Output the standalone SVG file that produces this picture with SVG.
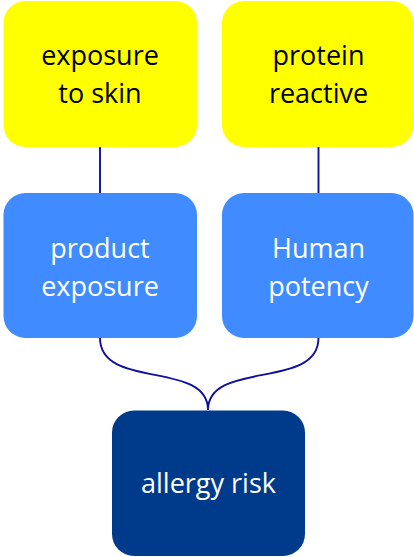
<svg xmlns="http://www.w3.org/2000/svg" width="414" height="557" viewBox="0 0 414 557">
<style>
.box{stroke:none}
.y{fill:#FFFF00}
.b{fill:#3F8BFF}
.d{fill:#003A8A}
text{font-family:"Open Sans","Noto Sans","Liberation Sans",sans-serif;font-size:27px;text-anchor:middle}
.tk{fill:#000000}
.tw{fill:#FFFFFF}
.c{fill:none;stroke:#10109A;stroke-width:1.9}
</style>
<rect width="414" height="557" fill="#FFFFFF"/>
<g id="connectors">
<line class="c" x1="100" y1="147" x2="100" y2="193"/>
<line class="c" x1="318.5" y1="147" x2="318.5" y2="193"/>
<path class="c" d="M100,338 C100,390 208,360 208,410"/>
<path class="c" d="M318.5,338 C318.5,390 208,360 208,410"/>
</g>
<g id="exposure-to-skin">
<rect class="box y" x="3.5" y="1" width="193.5" height="146" rx="22"/>
<text class="tk" x="100" y="65">exposure</text>
<text class="tk" x="100" y="103">to skin</text>
</g>
<g id="protein-reactive">
<rect class="box y" x="222" y="1" width="191.5" height="146" rx="22"/>
<text class="tk" x="318.5" y="65">protein</text>
<text class="tk" x="318.5" y="103">reactive</text>
</g>
<g id="product-exposure">
<rect class="box b" x="3.5" y="193" width="193.5" height="145" rx="22"/>
<text class="tw" x="100" y="258">product</text>
<text class="tw" x="100" y="296">exposure</text>
</g>
<g id="human-potency">
<rect class="box b" x="222" y="193" width="191.5" height="145" rx="22"/>
<text class="tw" x="318.5" y="258">Human</text>
<text class="tw" x="318.5" y="296">potency</text>
</g>
<g id="allergy-risk">
<rect class="box d" x="112" y="410.5" width="193" height="145.5" rx="22"/>
<text class="tw" x="208.5" y="493">allergy risk</text>
</g>
</svg>
